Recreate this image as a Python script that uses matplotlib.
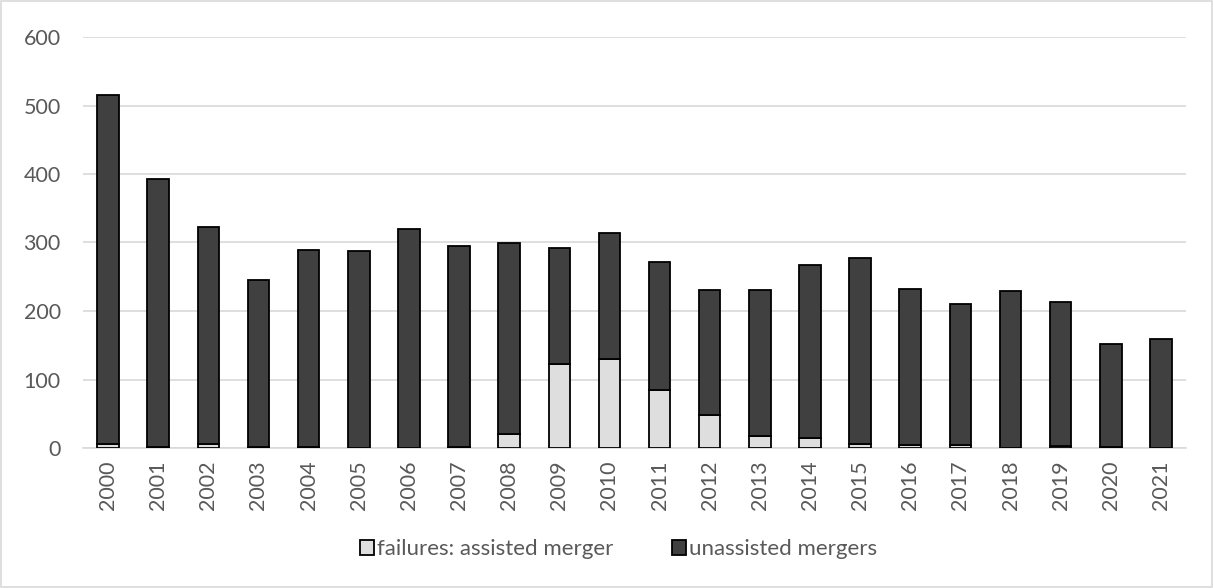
import matplotlib
matplotlib.use("Agg")
import matplotlib.pyplot as plt
from matplotlib.patches import Rectangle

years = [str(y) for y in range(2000, 2022)]
failures = [6, 2, 6, 1, 2, 0, 0, 1, 20, 122, 130, 85, 48, 17, 15, 6, 5, 5, 0, 3, 1, 0]
totals = [515, 393, 323, 245, 289, 287, 319, 295, 299, 292, 314, 271, 230, 230, 267, 278, 232, 210, 229, 213, 152, 159]
unassisted = [t - f for t, f in zip(totals, failures)]
yticks = [0, 100, 200, 300, 400, 500, 600]

plt.rcParams['font.family'] = ['Lato', 'DejaVu Sans']
txt = '#595959'

fig = plt.figure(figsize=(12.13, 5.88), dpi=100)
ax = fig.add_axes([83/1213, 1-448/588, (1186-83)/1213, (448-37)/588])

x = list(range(len(years)))
w = 0.43
ax.bar(x, failures, width=w, color='#DEDEDE', edgecolor='black', linewidth=1.3,
       label='failures: assisted merger', zorder=3)
ax.bar(x, unassisted, width=w, bottom=failures, color='#404040', edgecolor='black',
       linewidth=1.3, label='unassisted mergers', zorder=3)

ax.set_xlim(-0.5, len(years) - 0.5)
ax.set_ylim(0, 600)
ax.set_yticks(yticks)
ax.set_yticklabels([str(v) for v in yticks], fontsize=15.5, color=txt)
ax.set_xticks(x)
ax.set_xticklabels(years, rotation=90, fontsize=15.5, color=txt)
ax.tick_params(axis='both', length=0)
ax.tick_params(axis='y', pad=16)
ax.tick_params(axis='x', pad=9)
ax.grid(axis='y', color='#D9D9D9', linewidth=1.2, zorder=0)
for s in ['top', 'right', 'left']:
    ax.spines[s].set_visible(False)
ax.spines['bottom'].set_color('#D9D9D9')
ax.spines['bottom'].set_linewidth(1.2)

leg = fig.legend(loc='center', bbox_to_anchor=(0.51, 1-549/588), ncol=2, frameon=False,
                 fontsize=16, handlelength=0.65, handleheight=0.65, handletextpad=0.15,
                 columnspacing=2.6)
for t in leg.get_texts():
    t.set_color(txt)

fig.patches.append(Rectangle((1/1213, 1/588), 1-2/1213, 1-2/588, transform=fig.transFigure,
                             fill=False, edgecolor='#D9D9D9', linewidth=1.2))

fig.savefig('out.png', dpi=100)
